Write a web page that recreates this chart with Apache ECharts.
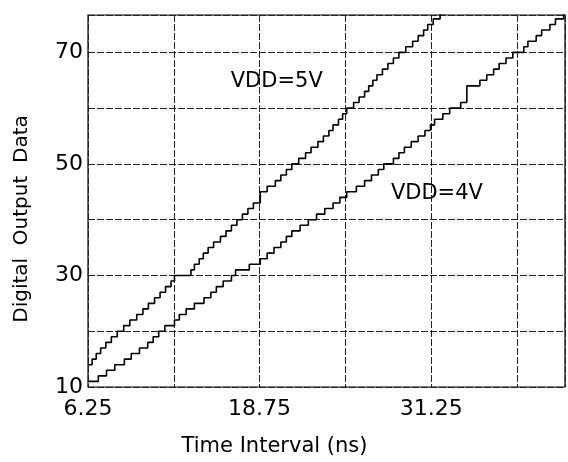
<!DOCTYPE html>
<html>
<head>
<meta charset="utf-8">
<script src="https://cdn.jsdelivr.net/npm/echarts@6/dist/echarts.min.js"></script>
<style>
  html, body { margin: 0; padding: 0; background: #fff; }
  #chart { width: 568px; height: 462px; }
</style>
</head>
<body>
<div id="chart"></div>
<script>
// 数据：每个台阶开始的时间 (ns) 和对应的输出码
var vdd5Time = [6.25, 6.55, 6.85, 7.17, 7.55, 7.95, 8.38, 8.85, 9.3, 9.8, 10.25, 10.65, 11.1, 11.5, 11.9, 12.3,
  12.55, 13.75, 14.0, 14.35, 14.65, 15.0, 15.4, 15.9, 16.3, 16.7, 17.1, 17.5, 17.9, 18.3,
  18.8, 19.3, 19.9, 20.3, 20.7, 21.1, 21.6, 22.1, 22.5, 23.0, 23.4, 23.8, 24.1, 24.5, 24.8,
  25.1, 25.6, 26.0, 26.4, 26.7, 27.0, 27.3, 27.7, 28.1, 28.5, 28.9, 29.4, 29.9, 30.3, 30.7,
  31.0, 31.4, 31.9, 32.3];
var vdd5Code = [14, 15, 16, 17, 18, 19, 20, 21, 22, 23, 24, 25, 26, 27, 28, 29,
  30, 31, 32, 33, 34, 35, 36, 37, 38, 39, 40, 41, 42, 43,
  45, 46, 47, 48, 49, 50, 51, 52, 53, 54, 55, 56, 57, 58, 59,
  60, 61, 62, 63, 64, 65, 66, 67, 68, 69, 70, 71, 72, 73, 74,
  75, 76, 77, 77];

var vdd4Time = [6.25, 7.0, 7.6, 8.2, 8.9, 9.4, 10.0, 10.6, 11.0, 11.4, 11.85,
  12.55, 12.9, 13.4, 14.0, 14.7, 15.2, 15.6, 16.1, 16.7, 17.0, 18.0,
  18.8, 19.3, 19.8, 20.3, 20.7, 21.1, 21.7, 22.3, 22.9, 23.5, 24.1, 24.6,
  25.1, 25.8, 26.4, 26.9, 27.4, 27.8, 28.5, 28.9, 29.3, 29.8, 30.3, 30.8,
  31.2, 31.5, 32.1, 32.6, 33.4, 33.85, 34.8, 35.3, 35.8, 36.2, 36.7, 37.2,
  38.0, 38.3, 38.9, 39.3, 39.9, 40.3, 40.9, 41.0];
var vdd4Code = [11, 12, 13, 14, 15, 16, 17, 18, 19, 20, 21,
  22, 23, 24, 25, 26, 27, 28, 29, 30, 31, 32,
  33, 34, 35, 36, 37, 38, 39, 40, 41, 42, 43, 44,
  45, 46, 47, 48, 49, 50, 51, 52, 53, 54, 55, 56,
  57, 58, 59, 60, 61, 64, 65, 66, 67, 68, 69, 70,
  71, 72, 73, 74, 75, 76, 77, 77];

var xLabels = ['6.25', '18.75', '31.25'];
var yLabels = ['10', '30', '50', '70'];

function pairs(t, c) {
  return t.map(function (v, i) { return [v, c[i]]; });
}

var myChart = echarts.init(document.getElementById('chart'));
var gridLine = { show: true, lineStyle: { color: '#222', width: 1, type: [7, 2] } };
var labelFont = { color: '#000', fontFamily: 'DejaVu Sans', fontSize: 22 };

myChart.setOption({
  animation: false,
  backgroundColor: '#fff',
  grid: {
    left: 88, top: 15, right: 1, bottom: 73,
    show: true, borderColor: '#000', borderWidth: 1.2, backgroundColor: '#fff'
  },
  xAxis: {
    type: 'value',
    min: 6.25, max: 41, interval: 6.25,
    name: 'Time Interval (ns)',
    nameLocation: 'middle',
    nameGap: 49,
    nameTextStyle: { color: '#000', fontFamily: 'DejaVu Sans', fontSize: 21, padding: [0, 104, 0, 0] },
    axisLine: { show: false },
    axisTick: { show: false },
    splitLine: gridLine,
    axisLabel: Object.assign({
      margin: 11,
      formatter: function (v) {
        var s = String(v);
        return xLabels.indexOf(s) >= 0 ? s : '';
      }
    }, labelFont)
  },
  yAxis: {
    type: 'value',
    min: 10, max: 76.7, interval: 10,
    name: 'Digital  Output  Data',
    nameLocation: 'middle',
    nameGap: 56,
    nameTextStyle: { color: '#000', fontFamily: 'DejaVu Sans', fontSize: 20, padding: [0, 36, 0, 0] },
    axisLine: { show: false },
    axisTick: { show: false },
    splitLine: gridLine,
    axisLabel: Object.assign({
      margin: 5,
      showMaxLabel: false,
      formatter: function (v) {
        var s = String(v);
        return yLabels.indexOf(s) >= 0 ? s : '';
      }
    }, labelFont)
  },
  series: [
    {
      name: 'VDD=5V',
      type: 'line',
      step: 'end',
      symbol: 'none',
      lineStyle: { color: '#000', width: 1.6 },
      data: pairs(vdd5Time, vdd5Code),
      markPoint: {
        symbol: 'rect', symbolSize: 1,
        itemStyle: { color: 'transparent' },
        label: { show: true, formatter: 'VDD=5V', color: '#000', fontFamily: 'DejaVu Sans', fontSize: 21 },
        data: [{ coord: [20.0, 64.8] }]
      }
    },
    {
      name: 'VDD=4V',
      type: 'line',
      step: 'end',
      symbol: 'none',
      lineStyle: { color: '#000', width: 1.6 },
      data: pairs(vdd4Time, vdd4Code),
      markPoint: {
        symbol: 'rect', symbolSize: 1,
        itemStyle: { color: 'transparent' },
        label: { show: true, formatter: 'VDD=4V', color: '#000', fontFamily: 'DejaVu Sans', fontSize: 21 },
        data: [{ coord: [31.67, 44.6] }]
      }
    }
  ]
});
</script>
</body>
</html>
